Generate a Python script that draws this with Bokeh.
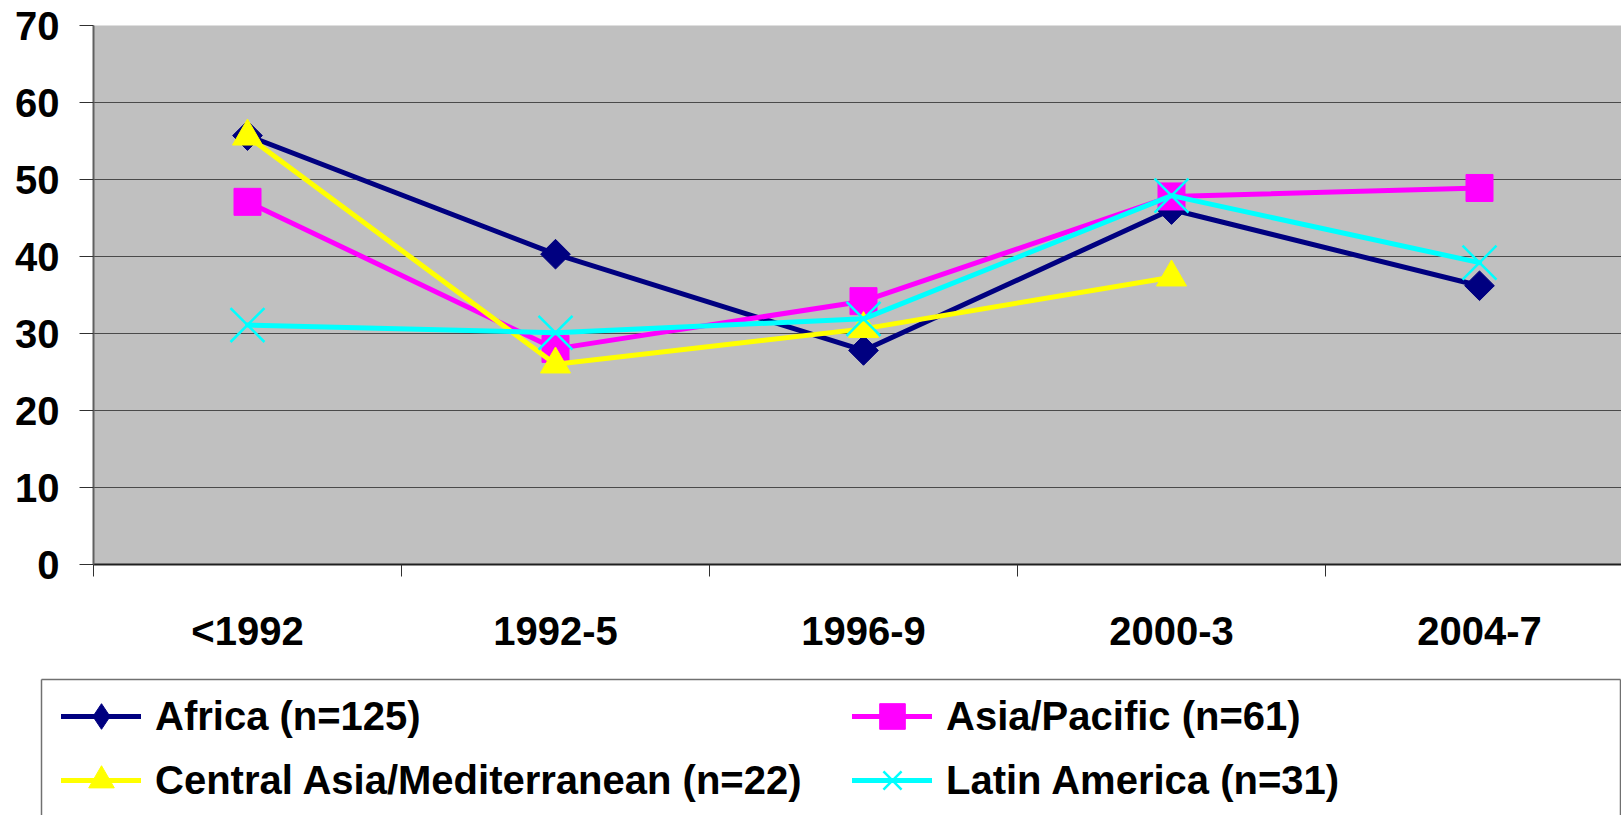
import math
from bokeh.plotting import figure
from bokeh.layouts import column
from bokeh.models import (ColumnDataSource, Legend, LegendItem, FixedTicker,
                          Range1d, LinearAxis)
from bokeh.embed import file_html
from bokeh.resources import INLINE

# ---------------- data ----------------
categories = ["<1992", "1992-5", "1996-9", "2000-3", "2004-7"]
africa = [55.7, 40.3, 27.8, 46.1, 36.2]
asia_pacific = [47.1, 28.0, 34.2, 47.8, 48.9]
central_asia = [55.6, 26.0, 30.6, 37.3, float("nan")]
latin_america = [31.1, 30.1, 31.9, 47.9, 39.2]
series_names = ["Africa (n=125)", "Asia/Pacific (n=61)",
                "Central Asia/Mediterranean (n=22)", "Latin America (n=31)"]
y_ticks = [0, 10, 20, 30, 40, 50, 60, 70]

FONT = "Liberation Sans"
xs = list(range(len(categories)))

# ---------------- main chart ----------------
p = figure(width=1621, height=670, output_backend="svg", toolbar_location=None,
           x_range=Range1d(-0.5, 4.461), y_range=Range1d(0, 70),
           min_border_left=93, min_border_right=0, min_border_top=25,
           min_border_bottom=106)
p.background_fill_color = "#C0C0C0"
p.border_fill_color = "white"
p.outline_line_color = None

p.xgrid.visible = False
p.ygrid.ticker = FixedTicker(ticks=y_ticks)
p.ygrid.grid_line_color = "#4a4a4a"
p.ygrid.grid_line_width = 1.2

xa = p.xaxis[0]
xa.ticker = FixedTicker(ticks=xs, minor_ticks=[i - 0.5 for i in range(len(categories) + 1)])
xa.major_label_overrides = {i: c for i, c in enumerate(categories)}
xa.axis_line_color = "#202020"
xa.axis_line_width = 2
xa.major_tick_out = 0
xa.major_tick_in = 0
xa.minor_tick_out = 12
xa.minor_tick_in = 0
xa.minor_tick_line_color = "#303030"
xa.minor_tick_line_width = 1
xa.major_label_standoff = 32
xa.major_label_text_font = FONT
xa.major_label_text_font_style = "bold"
xa.major_label_text_font_size = "40px"
xa.major_label_text_color = "black"

ya = p.yaxis[0]
ya.ticker = FixedTicker(ticks=y_ticks)
ya.axis_line_color = "#606060"
ya.axis_line_width = 2
ya.major_tick_out = 14
ya.major_tick_in = 0
ya.major_tick_line_color = "#303030"
ya.minor_tick_line_color = None
ya.major_label_standoff = 20
ya.major_label_text_font = FONT
ya.major_label_text_font_style = "bold"
ya.major_label_text_font_size = "40px"
ya.major_label_text_color = "black"

styles = [
    dict(vals=africa, color="#000080", marker="square", size=21, angle=math.pi / 4,
         legend_marker="diamond", lw=5),
    dict(vals=asia_pacific, color="#FF00FF", marker="square", size=27, angle=0,
         legend_marker="square", lw=5),
    dict(vals=central_asia, color="#FFFF00", marker="triangle", size=30, angle=0,
         legend_marker="triangle", lw=5),
    dict(vals=latin_america, color="#00FFFF", marker="x", size=48, angle=0,
         legend_marker="x", lw=5),
]


def draw(fig, src, st, marker):
    lr = fig.line("x", "y", source=src, line_color=st["color"], line_width=st["lw"],
                  line_join="round", line_cap="round")
    if marker == "x":
        sr = fig.scatter("x", "y", source=src, marker="x", size=st["size"],
                         line_color=st["color"], line_width=2.5)
    else:
        sr = fig.scatter("x", "y", source=src, marker=marker, size=st["size"],
                         angle=st["angle"], fill_color=st["color"],
                         line_color=st["color"], line_width=1)
    return lr, sr


sources = []
for st in styles:
    src = ColumnDataSource(dict(x=xs, y=st["vals"]))
    sources.append(src)
    draw(p, src, st, st["marker"])

# ---------------- legend panel ----------------
p2 = figure(width=1621, height=145, output_backend="svg", toolbar_location=None,
            x_axis_type=None, y_axis_type=None,
            x_range=Range1d(100, 101), y_range=Range1d(100, 101),
            min_border_left=41, min_border_right=1, min_border_top=9,
            min_border_bottom=0)
p2.outline_line_color = None
p2.background_fill_color = "white"
p2.border_fill_color = "white"
for fig in (p, p2):
    try:
        fig.frame_align = False
    except Exception:
        pass
for loc in ["left", "above", "right"]:
    ax = LinearAxis(ticker=FixedTicker(ticks=[]), axis_line_color="#707070",
                    axis_line_width=1.5, major_tick_line_color=None,
                    minor_tick_line_color=None, major_label_text_font_size="0px")
    p2.add_layout(ax, loc)

items = []
for name, st, src in zip(series_names, styles, sources):
    lr, sr = draw(p2, src, st, st["legend_marker"])
    items.append(LegendItem(label=name, renderers=[lr, sr]))

legend = Legend(items=items, location=(20, 3), orientation="horizontal", ncols=2,
                glyph_width=80, glyph_height=64, label_standoff=14, label_width=697,
                spacing=0, padding=0, margin=0,
                border_line_alpha=0, background_fill_alpha=0,
                label_text_font=FONT, label_text_font_style="bold",
                label_text_font_size="40px", label_text_color="black")
p2.add_layout(legend, "center")

open("out.html", "w").write(file_html(column(p, p2, spacing=0), INLINE))
